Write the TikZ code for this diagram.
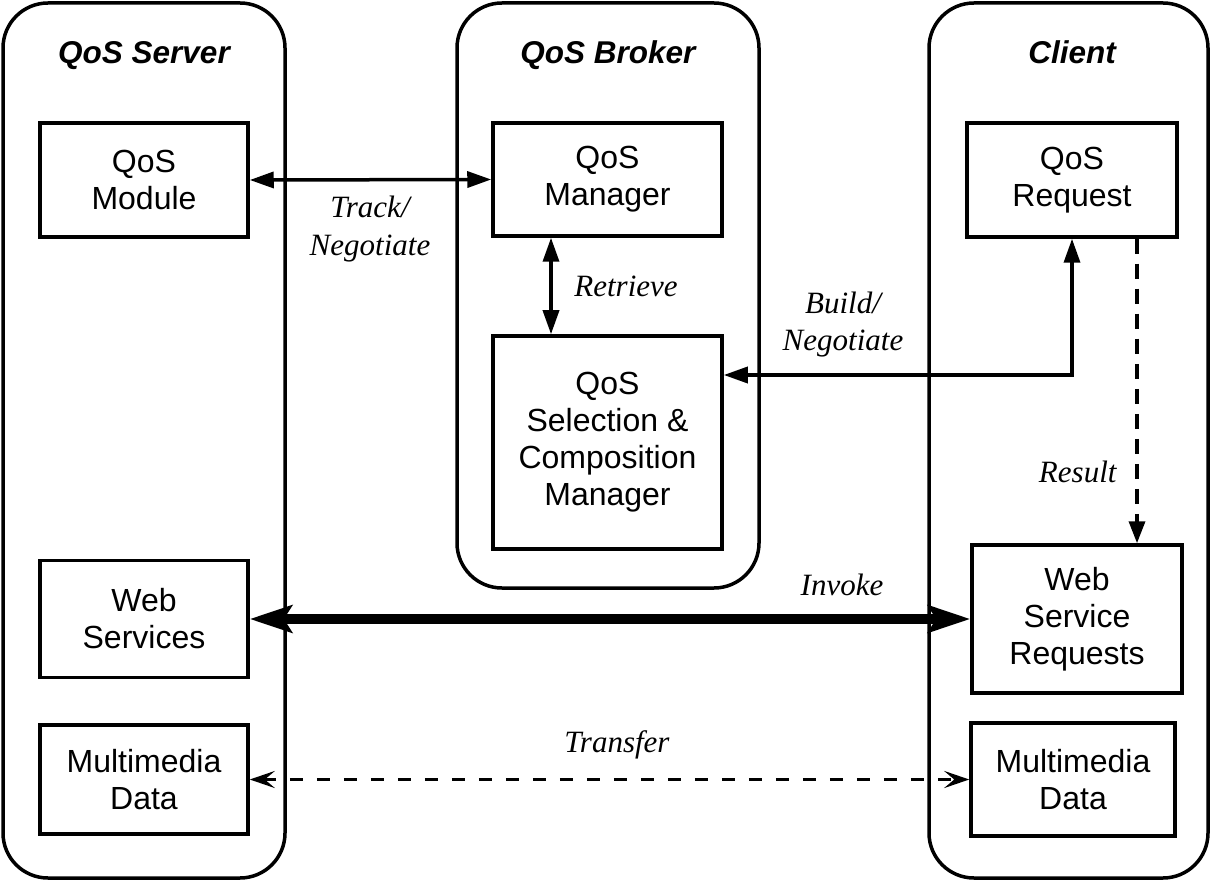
\documentclass[tikz,border=0pt]{standalone}
\usepackage{fontspec}
\setmainfont{Liberation Serif}
\setsansfont{Liberation Sans}
\usetikzlibrary{arrows.meta}
\begin{document}
\begin{tikzpicture}[x=1pt,y=-1pt,
  container/.style={draw, line width=3.5pt, rounded corners=45pt, inner sep=0pt, outer sep=0pt},
  box/.style={draw, line width=3.5pt, fill=white, align=center, inner sep=0pt,
    font=\sffamily\fontsize{32}{37}\selectfont},
  title/.style={anchor=base, font=\sffamily\bfseries\itshape\fontsize{31.5}{36}\selectfont},
  lbl/.style={align=center, font=\itshape\fontsize{31}{37.5}\selectfont},
  conn/.style={line width=3.5pt},
  tri/.style={conn, {Triangle[length=24pt,width=16pt]}-{Triangle[length=24pt,width=16pt]}},
  resultarrow/.style={conn, dash pattern=on 15pt off 10pt, -{Triangle[length=22pt,width=16pt]}},
  invokearrow/.style={line width=10pt, {Stealth[length=42pt,width=27pt,inset=8pt]}-{Stealth[length=42pt,width=27pt,inset=8pt]}},
  transferarrow/.style={conn, dash pattern=on 13pt off 14pt, {Stealth[length=25pt,width=17pt,inset=10pt]}-{Stealth[length=25pt,width=17pt,inset=10pt]}}
]
\useasboundingbox (0,0) rectangle (1212,882);

% containers
\node[container, minimum width=282pt, minimum height=875pt] (server) at (144,440.5) {};
\node[container, minimum width=302pt, minimum height=585pt] (broker) at (608,295.5) {};
\node[container, minimum width=279pt, minimum height=875pt] (client) at (1068.5,440.5) {};

% titles
\node[title] (tserver) at (144,64) {QoS Server};
\node[title] (tbroker) at (608,64) {QoS Broker};
\node[title] (tclient) at (1072,64) {Client};

% boxes
\node[box, minimum width=208pt, minimum height=114pt] (qmod) at (144,180) {QoS\\Module};
\node[box, minimum width=229pt, minimum height=113pt] (qman) at (607.5,179.5) {QoS\\Manager};
\node[box, minimum width=229pt, minimum height=213pt] (sel) at (607.5,442.5) {QoS\\Selection \&\\Composition\\Manager};
\node[box, minimum width=210pt, minimum height=114pt] (qreq) at (1072,180) {QoS\\Request};
\node[box, minimum width=208pt, minimum height=117pt] (ws) at (144,619) {Web\\Services};
\node[box, minimum width=210pt, minimum height=148pt] (wsr) at (1077,619) {Web\\Service\\Requests};
\node[box, minimum width=208pt, minimum height=109pt] (mdl) at (144,779.5) {Multimedia\\Data};
\node[box, minimum width=204pt, minimum height=113pt] (mdr) at (1073,779.5) {Multimedia\\Data};

% connectors
\draw[tri] (qmod.east) -- (qman.west);
\draw[tri] ([xshift=-56.5pt]qman.south) -- ([xshift=-56.5pt]sel.north);
\draw[tri] ([yshift=67.5pt]sel.east) -| (qreq.south);
\draw[resultarrow] ([xshift=65pt]qreq.south) -- ([xshift=65pt]qreq.south |- wsr.north);
\draw[invokearrow] (ws.east) -- (wsr.west);
\draw[transferarrow] (mdl.east) -- (mdr.west);

% labels
\node[lbl] (ltrack) at (370,229) {Track/\\Negotiate};
\node[lbl, anchor=base] (lretrieve) at (626,297) {Retrieve};
\node[lbl] (lbuild) at (843,324.5) {Build/\\Negotiate};
\node[lbl, anchor=base east] (lresult) at (1120,482) {Result};
\node[lbl, anchor=base] (linvoke) at (842,595) {Invoke};
\node[lbl, anchor=base] (ltransfer) at (617,752) {Transfer};
\end{tikzpicture}
\end{document}
